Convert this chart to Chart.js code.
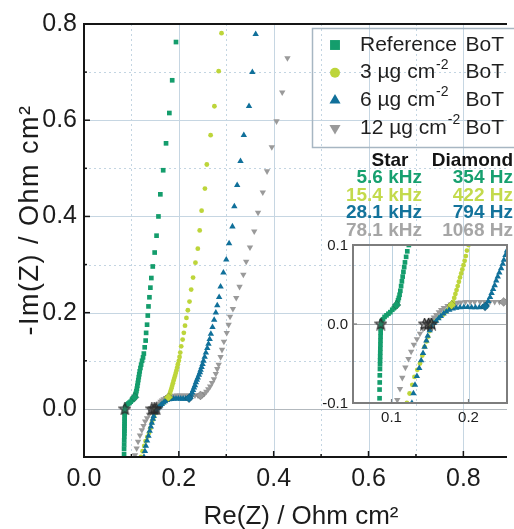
<!DOCTYPE html>
<html>
<head>
<meta charset="utf-8">
<title>Nyquist plot - BoT loading</title>
<script src="https://cdn.jsdelivr.net/npm/chart.js@4.4.1/dist/chart.umd.min.js"></script>
<style>
    html, body { margin: 0; padding: 0; background: #fff; overflow: hidden; }
    #wrap { position: relative; width: 514px; height: 529px; }
    #nyquist { position: absolute; left: 0; top: 0; }
    #inset { position: absolute; left: 310px; top: 232px; }
</style>
</head>
<body>
<div id="wrap">
    <canvas id="nyquist" width="514" height="529"></canvas>
    <canvas id="inset" width="204" height="198"></canvas>
</div>
<script>
// Impedance spectra, Re(Z) and -Im(Z) in Ohm cm2
const refRe = [0.0845, 0.0845, 0.0847, 0.0848, 0.0850, 0.0851, 0.0852, 0.0853, 0.0854, 0.0855,
    0.0856, 0.0857, 0.0858, 0.0859, 0.0860, 0.0861, 0.0870, 0.0890, 0.0910, 0.0935,
    0.0960, 0.0985, 0.1010, 0.1030, 0.1050, 0.1065, 0.1075, 0.1085, 0.1095, 0.1105,
    0.1115, 0.1125, 0.1135, 0.1145, 0.1155, 0.1165, 0.1175, 0.1190, 0.1205, 0.1225,
    0.1245, 0.1262, 0.128, 0.130, 0.131, 0.133, 0.1345, 0.136, 0.138, 0.140,
    0.142, 0.145, 0.149, 0.153, 0.157, 0.161, 0.167, 0.173, 0.180, 0.186, 0.194];
const refIm = [-0.094, -0.083, -0.074, -0.065, -0.057, -0.051, -0.046, -0.041, -0.036, -0.031,
    -0.026, -0.021, -0.016, -0.011, -0.006, -0.002, 0.003, 0.006, 0.009, 0.011,
    0.013, 0.015, 0.018, 0.020, 0.022, 0.024, 0.027, 0.030, 0.033, 0.037,
    0.042, 0.048, 0.054, 0.060, 0.066, 0.072, 0.078, 0.085, 0.092, 0.100,
    0.107, 0.115, 0.128, 0.142, 0.158, 0.175, 0.194, 0.213, 0.232, 0.252,
    0.272, 0.296, 0.325, 0.360, 0.400, 0.446, 0.496, 0.552, 0.615, 0.683, 0.7625];

const bot3Re = [0.120, 0.1235, 0.127, 0.1298, 0.1335, 0.137, 0.140, 0.143, 0.1455, 0.1475,
    0.1495, 0.151, 0.1545, 0.158, 0.162, 0.1665, 0.170, 0.173, 0.1755, 0.178,
    0.180, 0.1815, 0.183, 0.1845, 0.186, 0.1875, 0.189, 0.1905, 0.192, 0.1935,
    0.195, 0.1965, 0.198, 0.200, 0.2015, 0.203, 0.205, 0.208, 0.2105, 0.213,
    0.216, 0.219, 0.2225, 0.226, 0.230, 0.235, 0.240, 0.244, 0.248, 0.255,
    0.259, 0.267, 0.275, 0.284, 0.290];
const bot3Im = [-0.100, -0.088, -0.077, -0.067, -0.058, -0.050, -0.040, -0.029, -0.022, -0.016,
    -0.009, -0.003, 0.001, 0.004, 0.008, 0.0115, 0.015, 0.018, 0.021, 0.024,
    0.028, 0.033, 0.038, 0.043, 0.048, 0.0535, 0.059, 0.064, 0.069, 0.0745,
    0.080, 0.086, 0.093, 0.100, 0.108, 0.117, 0.130, 0.144, 0.158, 0.173,
    0.189, 0.205, 0.223, 0.248, 0.273, 0.304, 0.333, 0.371, 0.412, 0.458,
    0.508, 0.569, 0.629, 0.702, 0.781];

const bot6Re = [0.1265, 0.1285, 0.1305, 0.133, 0.136, 0.1385, 0.141, 0.143, 0.1453, 0.147,
    0.1496, 0.152, 0.155, 0.158, 0.161, 0.164, 0.1675, 0.171, 0.175, 0.1795,
    0.184, 0.189, 0.194, 0.199, 0.204, 0.209, 0.214, 0.218, 0.2215, 0.2235,
    0.2256, 0.228, 0.230, 0.232, 0.234, 0.236, 0.238, 0.240, 0.2424, 0.2445,
    0.246, 0.248, 0.250, 0.252, 0.2545, 0.257, 0.260, 0.2625, 0.265, 0.2675,
    0.271, 0.2745, 0.278, 0.281, 0.285, 0.288, 0.294, 0.300, 0.306, 0.313,
    0.317, 0.323, 0.330, 0.337, 0.348, 0.355, 0.362];
const bot6Im = [-0.100, -0.088, -0.077, -0.066, -0.056, -0.046, -0.037, -0.029, -0.021, -0.015,
    -0.008, -0.003, 0.001, 0.004, 0.007, 0.010, 0.013, 0.0155, 0.018, 0.0195,
    0.0205, 0.021, 0.0212, 0.0212, 0.021, 0.021, 0.021, 0.0212, 0.022, 0.025,
    0.029, 0.034, 0.039, 0.044, 0.049, 0.055, 0.060, 0.065, 0.0705, 0.076,
    0.081, 0.087, 0.093, 0.100, 0.108, 0.117, 0.126, 0.135, 0.145, 0.156,
    0.170, 0.185, 0.200, 0.215, 0.232, 0.254, 0.283, 0.310, 0.344, 0.379,
    0.421, 0.465, 0.515, 0.569, 0.629, 0.700, 0.779];

const bot12Re = [0.1075, 0.111, 0.114, 0.118, 0.122, 0.1255, 0.129, 0.133, 0.137, 0.141,
    0.1445, 0.148, 0.1517, 0.155, 0.158, 0.1615, 0.1645, 0.168, 0.1728, 0.177,
    0.1813, 0.186, 0.190, 0.196, 0.2023, 0.208, 0.215, 0.221, 0.2278, 0.234,
    0.2403, 0.2456, 0.250, 0.254, 0.258, 0.262, 0.266, 0.270, 0.274, 0.278,
    0.281, 0.284, 0.288, 0.291, 0.295, 0.301, 0.305, 0.308, 0.314, 0.321,
    0.328, 0.336, 0.342, 0.350, 0.359, 0.367, 0.377, 0.386, 0.396, 0.406,
    0.418, 0.429];
const bot12Im = [-0.096, -0.082, -0.068, -0.055, -0.044, -0.035, -0.026, -0.019, -0.012, -0.006,
    0.000, 0.003, 0.0055, 0.0085, 0.0115, 0.015, 0.018, 0.0205, 0.023, 0.025,
    0.026, 0.027, 0.0275, 0.028, 0.028, 0.028, 0.028, 0.028, 0.028, 0.028,
    0.028, 0.028, 0.029, 0.032, 0.036, 0.041, 0.047, 0.054, 0.062, 0.073,
    0.083, 0.092, 0.108, 0.123, 0.140, 0.158, 0.175, 0.192, 0.208, 0.231,
    0.254, 0.279, 0.306, 0.336, 0.369, 0.408, 0.450, 0.494, 0.544, 0.598,
    0.658, 0.729];

// Marked frequencies: star = zero crossing, diamond = end of the arc
const starRe = [0.0861, 0.148, 0.152, 0.143];
const starIm = [0, 0, 0, 0];
const diamondRe = [0.1065, 0.178, 0.2215, 0.2456];
const diamondIm = [0.024, 0.024, 0.022, 0.028];
const starFreq = ['5.6 kHz', '15.4 kHz', '28.1 kHz', '78.1 kHz'];
const diamondFreq = ['354 Hz', '422 Hz', '794 Hz', '1068 Hz'];

const seriesNames = ['Reference', '3 µg cm', '6 µg cm', '12 µg cm'];
const seriesSup = ['', '-2', '-2', '-2'];

// Tick labels
const xTickValues = [0.0, 0.2, 0.4, 0.6, 0.8];
const xTickLabels = ['0.0', '0.2', '0.4', '0.6', '0.8'];
const yTickValues = [0.0, 0.2, 0.4, 0.6, 0.8];
const yTickLabels = ['0.0', '0.2', '0.4', '0.6', '0.8'];
const insetXTickValues = [0.1, 0.2];
const insetXTickLabels = ['0.1', '0.2'];
const insetYTickValues = [-0.1, 0.0, 0.1];
const insetYTickLabels = ['-0.1', '0.0', '0.1'];

document.addEventListener('DOMContentLoaded', function () {

    const FONT = '"Liberation Sans", Arial, Helvetica, sans-serif';
    const colors = ['#149d6c', '#bdd53a', '#10709a', '#9a9a9a'];
    const textColors = ['#17a06f', '#c3da4c', '#13739b', '#a6a6a6'];
    const markers = [
        { pointStyle: 'rect', radius: 3.3, rotation: 0 },
        { pointStyle: 'circle', radius: 2.4, rotation: 0 },
        { pointStyle: 'triangle', radius: 3.7, rotation: 0 },
        { pointStyle: 'triangle', radius: 3.7, rotation: 180 }
    ];
    const legendMarkers = [7, 5, 6.4, 6.4];

    function pairs(re, im) {
        return re.map(function (v, i) { return { x: v, y: im[i] }; });
    }

    const series = [
        pairs(refRe, refIm),
        pairs(bot3Re, bot3Im),
        pairs(bot6Re, bot6Im),
        pairs(bot12Re, bot12Im)
    ];

    // Small outlined five-point star used for the crossing points
    function makeStar() {
        const c = document.createElement('canvas');
        c.width = 13;
        c.height = 13;
        const g = c.getContext('2d');
        g.beginPath();
        for (let k = 0; k < 10; k++) {
            const r = k % 2 === 0 ? 6 : 2.6;
            const a = -Math.PI / 2 + k * Math.PI / 5;
            g.lineTo(6.5 + r * Math.cos(a), 6.8 + r * Math.sin(a));
        }
        g.closePath();
        g.fillStyle = 'rgba(70,70,70,0.35)';
        g.fill();
        g.lineWidth = 1.2;
        g.strokeStyle = '#2a2a2a';
        g.stroke();
        return c;
    }
    const starMark = makeStar();

    function buildDatasets() {
        const order = [1, 3, 2, 4];
        const sets = series.map(function (points, i) {
            return {
                label: seriesNames[i],
                data: points,
                order: order[i],
                showLine: false,
                pointStyle: markers[i].pointStyle,
                pointRadius: markers[i].radius,
                pointRotation: markers[i].rotation,
                pointBackgroundColor: colors[i],
                pointBorderWidth: 0
            };
        });
        sets.push({
            label: 'Diamond',
            data: pairs(diamondRe, diamondIm),
            order: 0,
            showLine: false,
            pointStyle: 'rectRot',
            pointRadius: 4.5,
            pointBackgroundColor: colors,
            pointBorderColor: 'rgba(40,40,40,0.4)',
            pointBorderWidth: 0.6
        });
        sets.push({
            label: 'Star',
            data: pairs(starRe, starIm),
            order: 0,
            showLine: false,
            pointStyle: starMark,
            pointRadius: 6
        });
        return sets;
    }

    function tickOptions(labels, size, padding) {
        return {
            font: { family: FONT, size: size },
            color: '#1c1c1c',
            padding: padding,
            autoSkip: false,
            maxRotation: 0,
            callback: function (value, index) { return labels[index]; }
        };
    }

    function setTicks(values) {
        return function (axis) {
            axis.ticks = values.map(function (v) { return { value: v }; });
        };
    }

    function vline(ctx, px, top, bottom) {
        ctx.beginPath();
        ctx.moveTo(Math.round(px) + 0.5, top);
        ctx.lineTo(Math.round(px) + 0.5, bottom);
        ctx.stroke();
    }

    function hline(ctx, py, left, right) {
        ctx.beginPath();
        ctx.moveTo(left, Math.round(py) + 0.5);
        ctx.lineTo(right, Math.round(py) + 0.5);
        ctx.stroke();
    }

    // Grid, frame, inward ticks, legend and titles for the main plot
    const mainDecor = {
        id: 'mainDecor',
        beforeDatasetsDraw: function (chart) {
            const ctx = chart.ctx;
            const a = chart.chartArea;
            const x = chart.scales.x;
            const y = chart.scales.y;
            ctx.save();
            ctx.lineWidth = 1;

            // dotted lines halfway between the labelled ticks
            ctx.setLineDash([2, 3]);
            ctx.strokeStyle = '#c3d5e2';
            for (let v = 0.1; v < x.max; v += 0.2) vline(ctx, x.getPixelForValue(v), a.top, a.bottom);
            for (let v = 0.1; v < y.max; v += 0.2) hline(ctx, y.getPixelForValue(v), a.left, a.right);

            ctx.setLineDash([]);
            ctx.strokeStyle = '#c6d6e2';
            xTickValues.forEach(function (v) {
                if (v > x.min) vline(ctx, x.getPixelForValue(v), a.top, a.bottom);
            });
            yTickValues.forEach(function (v) {
                if (v > y.min && v < y.max) hline(ctx, y.getPixelForValue(v), a.left, a.right);
            });
            ctx.strokeStyle = '#b3b9be';
            hline(ctx, y.getPixelForValue(0), a.left, a.right);
            ctx.restore();
        },
        afterDatasetsDraw: function (chart) {
            const ctx = chart.ctx;
            const a = chart.chartArea;
            const x = chart.scales.x;
            const y = chart.scales.y;
            ctx.save();
            ctx.strokeStyle = '#151515';
            ctx.lineWidth = 2;
            ctx.beginPath();
            ctx.moveTo(a.right, a.top);
            ctx.lineTo(a.left, a.top);
            ctx.lineTo(a.left, a.bottom);
            ctx.lineTo(a.right, a.bottom);
            ctx.stroke();

            // ticks pointing into the plot
            ctx.lineWidth = 1.5;
            for (let v = 0.1; v < x.max; v += 0.1) {
                const major = Math.abs(v / 0.2 - Math.round(v / 0.2)) < 0.01;
                const px = x.getPixelForValue(v);
                ctx.beginPath();
                ctx.moveTo(px, a.bottom);
                ctx.lineTo(px, a.bottom - (major ? 6 : 3));
                ctx.stroke();
            }
            for (let v = 0.1; v < y.max; v += 0.1) {
                const major = Math.abs(v / 0.2 - Math.round(v / 0.2)) < 0.01;
                const py = y.getPixelForValue(v);
                ctx.beginPath();
                ctx.moveTo(a.left, py);
                ctx.lineTo(a.left + (major ? 6 : 3), py);
                ctx.stroke();
            }
            ctx.restore();
        },
        afterDraw: function (chart) {
            const ctx = chart.ctx;
            drawTitles(ctx);
            drawLegend(ctx);
            drawFreqTable(ctx);
        }
    };

    function drawTitles(ctx) {
        ctx.save();
        ctx.fillStyle = '#1c1c1c';
        ctx.font = '26px ' + FONT;
        ctx.textAlign = 'center';
        ctx.textBaseline = 'middle';
        ctx.fillText('Re(Z) / Ohm cm²', 301, 517);
        ctx.font = '27px ' + FONT;
        ctx.letterSpacing = '1.5px';
        ctx.translate(31, 220);
        ctx.rotate(-Math.PI / 2);
        ctx.fillText('-Im(Z) / Ohm cm²', 0, 0);
        ctx.restore();
    }

    function drawLegend(ctx) {
        ctx.save();
        ctx.strokeStyle = '#a7b6c2';
        ctx.lineWidth = 1.5;
        ctx.strokeRect(312.5, 28.5, 220, 119);
        ctx.textBaseline = 'middle';
        seriesNames.forEach(function (name, i) {
            const cy = 45 + i * 27.7;
            ctx.fillStyle = colors[i];
            Chart.helpers.drawPoint(ctx, {
                pointStyle: markers[i].pointStyle,
                radius: legendMarkers[i],
                rotation: markers[i].rotation,
                borderWidth: 0
            }, 335, cy);

            ctx.fillStyle = '#1f1f1f';
            ctx.font = '21px ' + FONT;
            ctx.textAlign = 'left';
            ctx.fillText(name, 360, cy);
            if (seriesSup[i]) {
                const w = ctx.measureText(name).width;
                ctx.font = '14px ' + FONT;
                ctx.fillText(seriesSup[i], 361 + w, cy - 8);
                ctx.font = '21px ' + FONT;
            }
            ctx.textAlign = 'right';
            ctx.fillText('BoT', 504, cy);
        });
        ctx.restore();
    }

    function drawFreqTable(ctx) {
        ctx.save();
        ctx.font = 'bold 19px ' + FONT;
        ctx.textBaseline = 'middle';
        ctx.fillStyle = '#141414';
        ctx.textAlign = 'center';
        ctx.fillText('Star', 390, 161);
        ctx.textAlign = 'right';
        ctx.fillText('Diamond', 513, 161);
        starFreq.forEach(function (f, i) {
            const cy = 178 + i * 17.5;
            ctx.fillStyle = textColors[i];
            ctx.fillText(f, 422, cy);
            ctx.fillText(diamondFreq[i], 513, cy);
        });
        ctx.restore();
    }

    // Frame, light grid and tick labels for the zoomed inset
    const insetDecor = {
        id: 'insetDecor',
        beforeDatasetsDraw: function (chart) {
            const ctx = chart.ctx;
            const a = chart.chartArea;
            const x = chart.scales.x;
            const y = chart.scales.y;
            ctx.save();
            ctx.lineWidth = 1;
            ctx.strokeStyle = '#bdd2e0';
            insetXTickValues.forEach(function (v) { vline(ctx, x.getPixelForValue(v), a.top, a.bottom); });
            ctx.strokeStyle = '#a9adb0';
            hline(ctx, y.getPixelForValue(0), a.left, a.right);
            ctx.restore();
        },
        afterDatasetsDraw: function (chart) {
            const ctx = chart.ctx;
            const a = chart.chartArea;
            const x = chart.scales.x;
            const y = chart.scales.y;
            ctx.save();
            ctx.strokeStyle = '#7d7d7d';
            ctx.lineWidth = 2;
            ctx.strokeRect(a.left, a.top, a.right - a.left, a.bottom - a.top);
            ctx.lineWidth = 1.2;
            ctx.fillStyle = '#1c1c1c';
            ctx.font = '15px ' + FONT;
            ctx.textBaseline = 'middle';
            ctx.textAlign = 'center';
            insetXTickValues.forEach(function (v, i) {
                const px = x.getPixelForValue(v);
                ctx.beginPath();
                ctx.moveTo(px, a.bottom);
                ctx.lineTo(px, a.bottom - 4);
                ctx.stroke();
                ctx.fillText(insetXTickLabels[i], px, a.bottom + 15);
            });
            ctx.textAlign = 'right';
            insetYTickValues.forEach(function (v, i) {
                const py = y.getPixelForValue(v);
                ctx.beginPath();
                ctx.moveTo(a.left, py);
                ctx.lineTo(a.left + 4, py);
                ctx.stroke();
                ctx.fillText(insetYTickLabels[i], a.left - 5, py + 1);
            });
            ctx.restore();
        }
    };

    new Chart(document.getElementById('nyquist'), {
        type: 'scatter',
        data: { datasets: buildDatasets() },
        options: {
            responsive: false,
            animation: false,
            layout: { padding: { top: 24, right: 0, bottom: 0, left: 0 } },
            plugins: { legend: { display: false }, tooltip: { enabled: false } },
            scales: {
                x: {
                    type: 'linear',
                    min: 0,
                    max: 0.892,
                    grid: { display: false, drawTicks: false },
                    border: { display: false },
                    ticks: tickOptions(xTickLabels, 25, 7),
                    afterBuildTicks: setTicks(xTickValues),
                    afterFit: function (axis) { axis.height = 72; }
                },
                y: {
                    type: 'linear',
                    min: -0.1,
                    max: 0.8,
                    grid: { display: false, drawTicks: false },
                    border: { display: false },
                    ticks: tickOptions(yTickLabels, 25, 7),
                    afterBuildTicks: setTicks(yTickValues),
                    afterFit: function (axis) { axis.width = 84; }
                }
            }
        },
        plugins: [mainDecor]
    });

    new Chart(document.getElementById('inset'), {
        type: 'scatter',
        data: { datasets: buildDatasets() },
        options: {
            responsive: false,
            animation: false,
            layout: { padding: { top: 13, right: 3, bottom: 0, left: 0 } },
            plugins: { legend: { display: false }, tooltip: { enabled: false } },
            scales: {
                x: {
                    type: 'linear',
                    min: 0.05,
                    max: 0.25,
                    grid: { display: false, drawTicks: false },
                    border: { display: false },
                    ticks: { display: false },
                    afterBuildTicks: setTicks(insetXTickValues),
                    afterFit: function (axis) { axis.height = 27; }
                },
                y: {
                    type: 'linear',
                    min: -0.1,
                    max: 0.1,
                    grid: { display: false, drawTicks: false },
                    border: { display: false },
                    ticks: { display: false },
                    afterBuildTicks: setTicks(insetYTickValues),
                    afterFit: function (axis) { axis.width = 43; }
                }
            }
        },
        plugins: [insetDecor]
    });
});
</script>
</body>
</html>
